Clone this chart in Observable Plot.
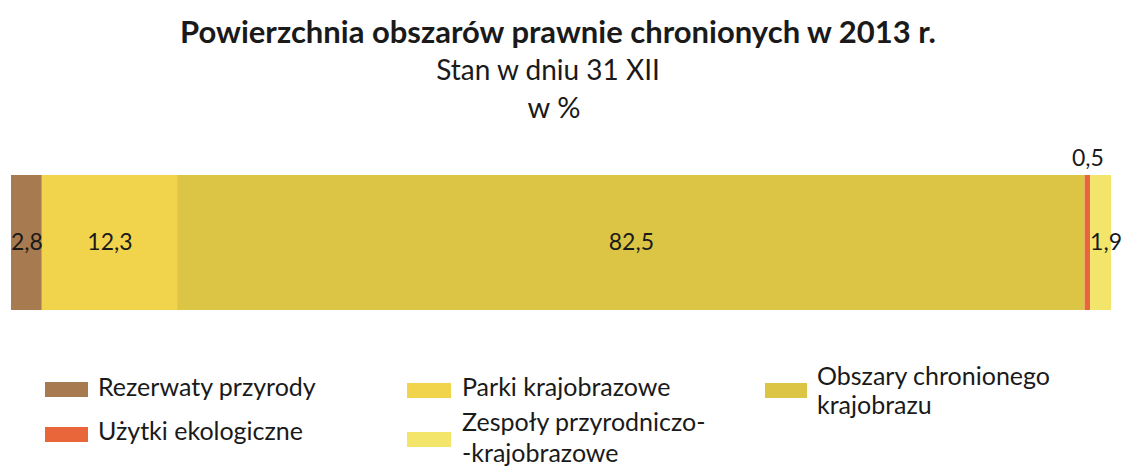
<!DOCTYPE html>
<html>
<head>
<meta charset="utf-8">
<script src="https://cdn.jsdelivr.net/npm/d3@7"></script>
<script src="https://cdn.jsdelivr.net/npm/@observablehq/plot@0.6"></script>
<style>
  html, body { margin: 0; padding: 0; background: #ffffff; }
  body { width: 1130px; height: 466px; position: relative; overflow: hidden; font-family: Lato, "Open Sans", sans-serif; color: #1a1a1a; }
  .t { position: absolute; left: 0; width: 1130px; text-align: center; white-space: nowrap; line-height: normal; }
  #title { top: 12px; left: -7px; font-size: 31px; font-weight: bold; }
  #sub1 { top: 52px; left: -17px; font-size: 28px; }
  #sub2 { top: 89px; left: -11px; font-size: 29px; }
  #chart { position: absolute; left: 0; top: 130px; }
  .lg { position: absolute; font-size: 25px; white-space: nowrap; }
  .sw { position: absolute; height: 15px; }
</style>
</head>
<body>
<div id="title" class="t"></div>
<div id="sub1" class="t"></div>
<div id="sub2" class="t"></div>
<div id="chart"></div>
<div id="legend"></div>
<script>
const titleText = "Powierzchnia obszarów prawnie chronionych w 2013 r.";
const subtitle1 = "Stan w dniu 31 XII";
const subtitle2 = "w %";

const categories = ["Rezerwaty przyrody", "Parki krajobrazowe", "Obszary chronionego krajobrazu", "Użytki ekologiczne", "Zespoły przyrodniczo-krajobrazowe"];
const values = [2.8, 12.3, 82.5, 0.5, 1.9];
const valueLabels = ["2,8", "12,3", "82,5", "0,5", "1,9"];
const colors = ["#a77b4f", "#f1d44c", "#dcc545", "#e8663a", "#f3e56a"];

document.getElementById("title").textContent = titleText;
document.getElementById("sub1").textContent = subtitle1;
document.getElementById("sub2").textContent = subtitle2;

const data = categories.map((c, i) => ({name: c, value: values[i], label: valueLabels[i], row: "2013"}));

const inside = d => d.value >= 2;
const above = d => d.value < 1;
const right = d => d.value >= 1 && d.value < 2;
const labelMark = (cond, extra) => Plot.text(data, Plot.stackX({
  order: null, x: "value", y: "row",
  text: d => cond(d) ? d.label : "",
  fill: "#1a1a1a", fontSize: 23, ...extra
}));

const chart = Plot.plot({
  width: 1130,
  height: 200,
  marginLeft: 11,
  marginRight: 19,
  marginTop: 45,
  marginBottom: 20,
  style: {fontFamily: "Lato, 'Open Sans', sans-serif", fontSize: "23px", color: "#1a1a1a", background: "transparent"},
  x: {domain: [0, 100], axis: null},
  y: {domain: ["2013"], axis: null, padding: 0},
  color: {domain: categories, range: colors},
  marks: [
    Plot.barX(data, Plot.stackX({order: null, x: "value", y: "row", fill: "name"})),
    labelMark(inside, {}),
    labelMark(above, {dy: -84}),
    labelMark(right, {dx: 5})
  ]
});
document.getElementById("chart").appendChild(chart);

// legend
const legendItems = [
  {i: 0, sx: 45, sy: 382, sw: 43, tx: 98, ty: 372, lh: 29, lines: ["Rezerwaty przyrody"]},
  {i: 3, sx: 45, sy: 427, sw: 43, tx: 98, ty: 416, lh: 29, lines: ["Użytki ekologiczne"]},
  {i: 1, sx: 407, sy: 383, sw: 44, tx: 462, ty: 372, lh: 29, lines: ["Parki krajobrazowe"]},
  {i: 4, sx: 407, sy: 432, sw: 44, tx: 462, ty: 406, lh: 31, lines: ["Zespoły przyrodniczo-", "-krajobrazowe"]},
  {i: 2, sx: 765, sy: 383, sw: 42, tx: 817, ty: 361, lh: 29, lines: ["Obszary chronionego", "krajobrazu"]}
];
const lg = document.getElementById("legend");
for (const it of legendItems) {
  const s = document.createElement("div");
  s.className = "sw";
  s.style.left = it.sx + "px"; s.style.top = it.sy + "px"; s.style.width = it.sw + "px";
  s.style.background = colors[it.i];
  lg.appendChild(s);
  const t = document.createElement("div");
  t.className = "lg";
  t.style.left = it.tx + "px"; t.style.top = it.ty + "px"; t.style.lineHeight = it.lh + "px";
  t.innerHTML = it.lines.join("<br>");
  lg.appendChild(t);
}
</script>
</body>
</html>
